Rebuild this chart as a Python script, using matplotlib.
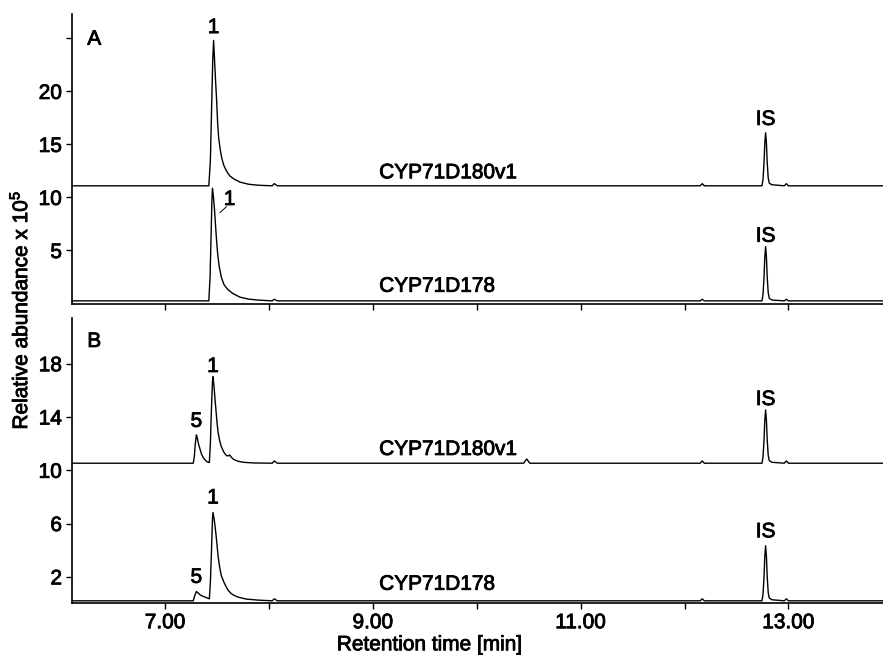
import matplotlib
matplotlib.use("Agg")
import matplotlib.pyplot as plt
import matplotlib.patheffects as pe
from matplotlib.text import Text

plt.rcParams['font.family'] = ['Liberation Sans', 'DejaVu Sans']
plt.rcParams['mathtext.fontset'] = 'custom'
plt.rcParams['mathtext.rm'] = 'Liberation Sans'
plt.rcParams['mathtext.default'] = 'regular'

FS = 15

# --- chromatogram traces (retention time [min], abundance x 1e5) ---
# panel A, CYP71D180v1
a_top_t = [6.10, 7.42, 7.435, 7.447, 7.458, 7.466, 7.475, 7.485, 7.495, 7.505,
           7.515, 7.53, 7.545, 7.565, 7.59, 7.62, 7.66, 7.72, 7.80, 7.90,
           8.03, 8.05, 8.08, 12.15, 12.17, 12.19,
           12.745, 12.755, 12.765, 12.772, 12.78, 12.788, 12.795, 12.805, 12.815, 12.84,
           12.96, 12.98, 13.00, 13.91]
a_top_y = [11.1, 11.1, 13.5, 18.5, 23.0, 24.8, 23.0, 21.0, 19.2, 17.0,
           15.6, 14.5, 13.7, 13.0, 12.5, 12.05, 11.75, 11.45, 11.25, 11.15,
           11.1, 11.3, 11.1, 11.1, 11.3, 11.1,
           11.1, 11.7, 13.35, 15.1, 16.1, 15.1, 13.35, 11.85, 11.35, 11.2,
           11.1, 11.3, 11.1, 11.1]

# panel A, CYP71D178
a_bot_t = [6.10, 7.42, 7.432, 7.442, 7.45, 7.455, 7.465, 7.475, 7.485, 7.495,
           7.505, 7.52, 7.54, 7.565, 7.60, 7.65, 7.72, 7.80, 7.90,
           8.03, 8.05, 8.08, 12.15, 12.17, 12.19,
           12.745, 12.755, 12.765, 12.772, 12.78, 12.788, 12.795, 12.805, 12.815, 12.84,
           12.96, 12.98, 13.00, 13.91]
a_bot_y = [0.25, 0.25, 2.5, 6.5, 9.8, 10.87, 10.0, 8.8, 7.3, 5.9,
           4.7, 3.5, 2.5, 1.8, 1.35, 0.95, 0.6, 0.42, 0.32,
           0.25, 0.4, 0.25, 0.25, 0.4, 0.25,
           0.25, 0.86, 2.55, 4.34, 5.36, 4.34, 2.55, 1.02, 0.5, 0.33,
           0.25, 0.4, 0.25, 0.25]

# panel B, CYP71D180v1
b_top_t = [6.10, 7.27, 7.28, 7.29, 7.30, 7.31, 7.32, 7.335, 7.35, 7.37, 7.40,
           7.425, 7.435, 7.445, 7.455, 7.46, 7.47, 7.48, 7.49, 7.50, 7.51,
           7.525, 7.54, 7.565, 7.59, 7.61, 7.62, 7.635, 7.655, 7.70, 7.75, 7.85,
           8.03, 8.05, 8.08, 10.45, 10.48, 10.51, 12.15, 12.17, 12.19,
           12.745, 12.755, 12.765, 12.772, 12.78, 12.788, 12.795, 12.805, 12.815, 12.84,
           12.96, 12.98, 13.00, 13.91]
b_top_y = [10.53, 10.53, 11.0, 12.0, 12.66, 12.4, 12.0, 11.6, 11.2, 10.9, 10.65,
           10.58, 12.0, 14.6, 16.6, 17.03, 16.3, 15.3, 14.4, 13.5, 12.8,
           12.2, 11.78, 11.35, 11.1, 11.08, 11.15, 11.0, 10.83, 10.68, 10.6, 10.55,
           10.53, 10.7, 10.53, 10.53, 10.85, 10.53, 10.53, 10.7, 10.53,
           10.53, 11.0, 12.33, 13.73, 14.53, 13.73, 12.33, 11.13, 10.73, 10.6,
           10.53, 10.7, 10.53, 10.53]

# panel B, CYP71D178
b_bot_t = [6.10, 7.27, 7.285, 7.30, 7.315, 7.33, 7.36, 7.40, 7.425,
           7.435, 7.445, 7.455, 7.46, 7.47, 7.48, 7.49, 7.50, 7.51, 7.525,
           7.54, 7.565, 7.59, 7.61, 7.62, 7.635, 7.66, 7.70, 7.78, 7.90,
           8.03, 8.05, 8.08, 12.15, 12.17, 12.19,
           12.745, 12.755, 12.765, 12.772, 12.78, 12.788, 12.795, 12.805, 12.815, 12.84,
           12.96, 12.98, 13.00, 13.91]
b_bot_y = [0.2, 0.2, 0.6, 0.9, 0.8, 0.68, 0.55, 0.43, 0.35,
           1.6, 3.8, 6.3, 6.83, 6.4, 5.8, 5.1, 4.3, 3.5, 2.7,
           2.1, 1.6, 1.2, 0.95, 0.87, 0.75, 0.62, 0.48, 0.33, 0.25,
           0.2, 0.35, 0.2, 0.2, 0.35, 0.2,
           0.2, 0.7, 2.06, 3.5, 4.33, 3.5, 2.06, 0.82, 0.41, 0.28,
           0.2, 0.35, 0.2, 0.2]

x_ticks = [7, 8, 9, 10, 11, 12, 13]
x_ticklabels = ['7.00', '', '9.00', '', '11.00', '', '13.00']
a_yticks = [5, 10, 15, 20, 25]
a_yticklabels = ['5', '10', '15', '20', '']
b_yticks = [2, 6, 10, 14, 18]
b_yticklabels = ['2', '6', '10', '14', '18']

fig = plt.figure(figsize=(8.83, 6.62), dpi=100)
ax_a = fig.add_axes([0.0812, 0.5415, 0.9188, 0.4374])
ax_b = fig.add_axes([0.0812, 0.0884, 0.9188, 0.4312])

for ax in (ax_a, ax_b):
    ax.set_xlim(6.10, 13.91)
    ax.spines['top'].set_visible(False)
    ax.spines['right'].set_visible(False)
    ax.spines['left'].set_linewidth(1.2)
    ax.spines['bottom'].set_linewidth(1.2)
    ax.set_xticks(x_ticks)
    ax.tick_params(direction='out', length=4, width=1, labelsize=FS, pad=3)

ax_a.set_xticklabels([])
ax_b.set_xticklabels(x_ticklabels)

ax_a.set_ylim(0, 27.3)
ax_a.set_yticks(a_yticks)
ax_a.set_yticklabels(a_yticklabels)
ax_b.set_ylim(0, 21.43)
ax_b.set_yticks(b_yticks)
ax_b.set_yticklabels(b_yticklabels)

lw = 1.0
ax_a.plot(a_top_t, a_top_y, color='black', lw=lw)
ax_a.plot(a_bot_t, a_bot_y, color='black', lw=lw)
ax_b.plot(b_top_t, b_top_y, color='black', lw=lw)
ax_b.plot(b_bot_t, b_bot_y, color='black', lw=lw)

# panel letters
ax_a.text(6.25, 24.4, 'A', fontsize=FS, ha='left', va='baseline')
ax_b.text(6.25, 19.26, 'B', fontsize=FS, ha='left', va='baseline')

# sample names
ax_a.text(9.06, 11.81, 'CYP71D180v1', fontsize=FS, ha='left', va='baseline')
ax_a.text(9.06, 1.11, 'CYP71D178', fontsize=FS, ha='left', va='baseline')
ax_b.text(9.06, 11.15, 'CYP71D180v1', fontsize=FS, ha='left', va='baseline')
ax_b.text(9.06, 1.03, 'CYP71D178', fontsize=FS, ha='left', va='baseline')

# peak labels
ax_a.text(7.466, 25.5, '1', fontsize=FS, ha='center', va='baseline')
ax_a.annotate('', xy=(7.527, 8.57), xytext=(7.59, 9.13),
              arrowprops=dict(arrowstyle='-', lw=0.7, color='black',
                              shrinkA=0, shrinkB=0))
ax_a.text(7.62, 9.29, '1', fontsize=FS, ha='center', va='baseline')
ax_a.text(12.78, 16.84, 'IS', fontsize=FS, ha='center', va='baseline')
ax_a.text(12.78, 5.83, 'IS', fontsize=FS, ha='center', va='baseline')

ax_b.text(7.30, 13.26, '5', fontsize=FS, ha='center', va='baseline')
ax_b.text(7.46, 17.38, '1', fontsize=FS, ha='center', va='baseline')
ax_b.text(12.78, 14.9, 'IS', fontsize=FS, ha='center', va='baseline')
ax_b.text(7.30, 1.55, '5', fontsize=FS, ha='center', va='baseline')
ax_b.text(7.46, 7.51, '1', fontsize=FS, ha='center', va='baseline')
ax_b.text(12.78, 4.97, 'IS', fontsize=FS, ha='center', va='baseline')

fig.text(0.487, 0.026, 'Retention time [min]', fontsize=FS, ha='center', va='center')
fig.text(0.023, 0.532, 'Relative abundance x 10$^{5}$', fontsize=FS,
         ha='center', va='center', rotation=90)

# slightly heavier glyphs for all text
for t in fig.findobj(Text):
    t.set_path_effects([pe.withStroke(linewidth=0.6, foreground='black')])

fig.savefig('out.png', dpi=100)
